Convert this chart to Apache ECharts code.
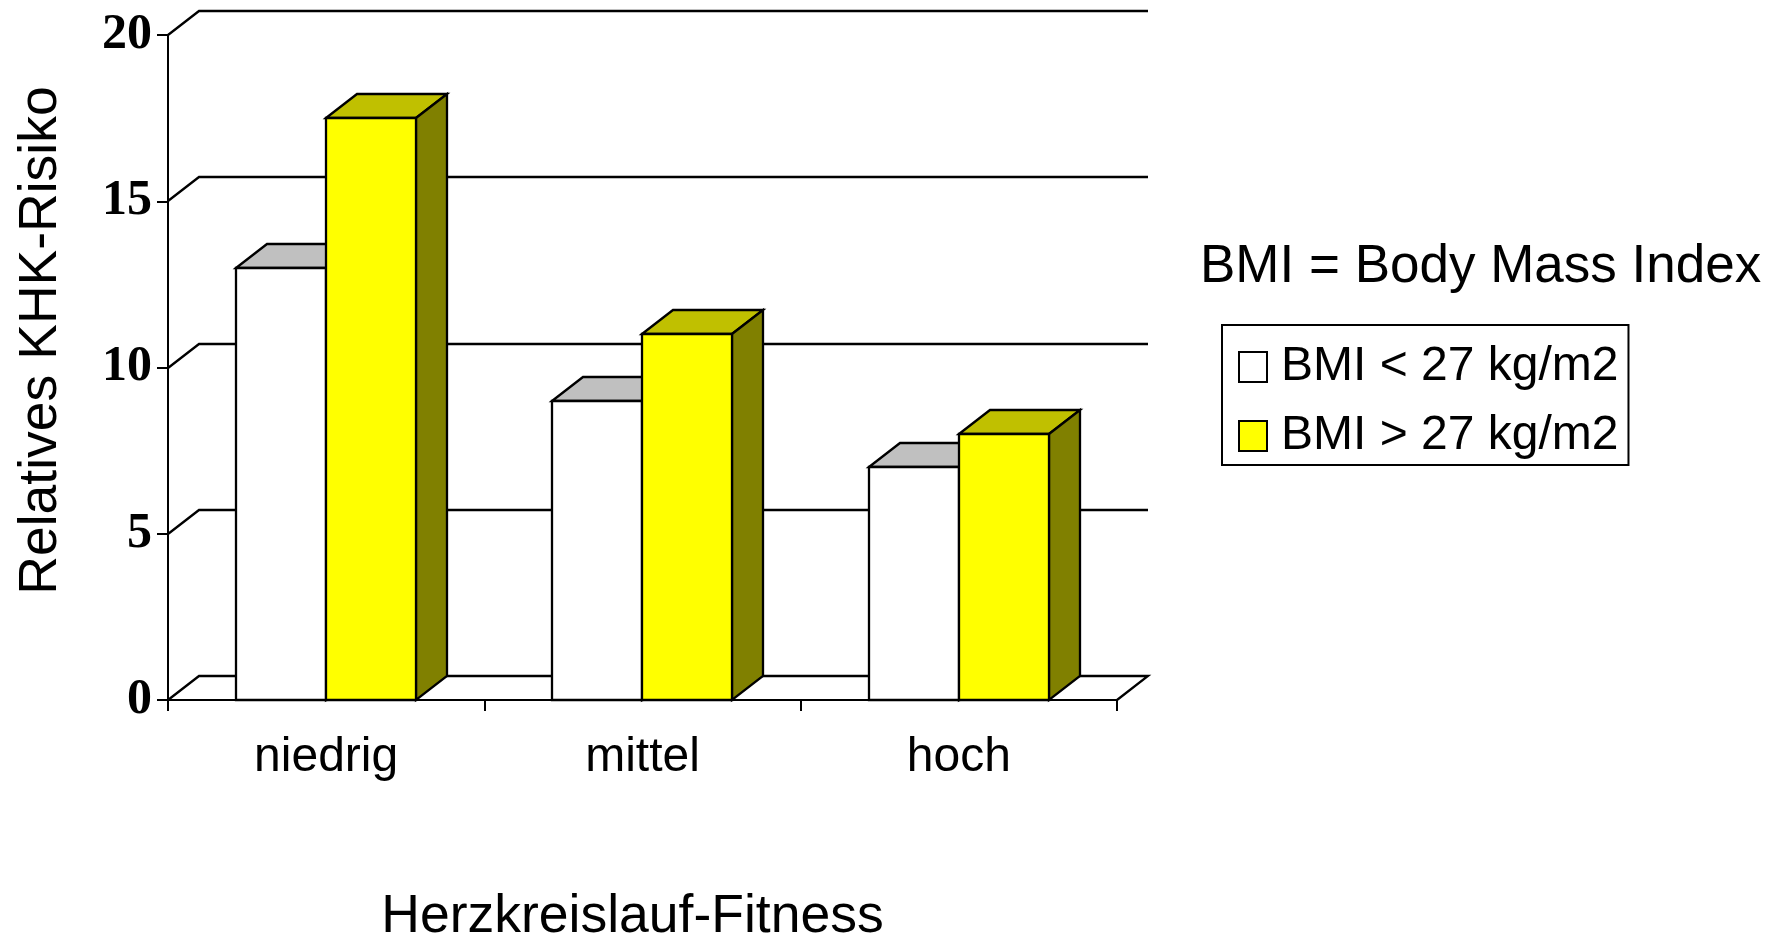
<!DOCTYPE html>
<html>
<head>
<meta charset="utf-8">
<style>html,body{margin:0;padding:0;background:#fff}#c{width:1784px;height:935px}</style>
<script src="https://cdn.jsdelivr.net/npm/echarts@6/dist/echarts.min.js"></script>
</head>
<body>
<div id="c"></div>
<script>
var categories = ['niedrig', 'mittel', 'hoch'];
var lowBmi = [13, 9, 7];
var highBmi = [17.5, 11, 8];
var yTicks = [0, 5, 10, 15, 20];
var lowName = 'BMI < 27 kg/m2';
var highName = 'BMI > 27 kg/m2';
var noteText = 'BMI = Body Mass Index';
var yTitle = 'Relatives KHK-Risiko';
var xTitle = 'Herzkreislauf-Fitness';

var DX = 31, DY = 24, BAR_FRAC = 90 / 316.33, LW = 2.3;
var sans = '"Liberation Sans", Arial, sans-serif';
var serif = '"Liberation Serif", "Times New Roman", serif';
var chart = echarts.init(document.getElementById('c'), null, {renderer: 'canvas'});
var R = Math.round;

function poly(points, fill) {
  return {type: 'polygon', shape: {points: points},
    style: {fill: fill, stroke: '#000', lineWidth: LW, lineJoin: 'miter'}};
}
function line(points) {
  return {type: 'polyline', shape: {points: points},
    style: {fill: null, stroke: '#000', lineWidth: LW}};
}
function barRenderer(side, front, top, shade) {
  return function (params, api) {
    var base = api.coord([api.value(0), 0]);
    var tip = api.coord([api.value(0), api.value(1)]);
    var w = R(api.size([1, 0])[0] * BAR_FRAC);
    var cx = Math.floor(base[0] + 0.4);
    var x0 = side < 0 ? cx - w : cx, x1 = x0 + w;
    var yT = R(tip[1]), yB = R(base[1]);
    return {type: 'group', children: [
      poly([[x0, yT], [x0 + DX, yT - DY], [x1 + DX, yT - DY], [x1, yT]], top),
      poly([[x1, yT], [x1 + DX, yT - DY], [x1 + DX, yB - DY], [x1, yB]], shade),
      poly([[x0, yT], [x1, yT], [x1, yB], [x0, yB]], front)
    ]};
  };
}
function wallRenderer(params, api) {
  var cs = params.coordSys;
  var y = R(api.coord([0, api.value(1)])[1]);
  var x0 = R(cs.x), x1 = R(cs.x + cs.width);
  var pts = [[x0, y], [x0 + DX, y - DY], [x1 + DX, y - DY]];
  if (api.value(1) === 0) pts.push([x1, y]);
  return line(pts);
}

chart.setOption({
  animation: false,
  backgroundColor: '#fff',
  title: {
    text: noteText, left: 1200, top: 241, padding: 0,
    textStyle: {fontFamily: sans, fontSize: 53, fontWeight: 'normal', color: '#000'}
  },
  legend: {
    orient: 'vertical', left: 1222, top: 325, align: 'left',
    padding: [18, 10, 5, 16], itemGap: 21, itemWidth: 28, itemHeight: 30,
    backgroundColor: '#fff', borderColor: '#000', borderWidth: 2, borderRadius: 0,
    icon: 'rect', inactiveColor: '#000',
    textStyle: {fontFamily: sans, fontSize: 48, color: '#000', padding: [0, 0, 0, 9]},
    data: [
      {name: lowName, itemStyle: {color: '#fff', borderColor: '#000', borderWidth: 2}},
      {name: highName, itemStyle: {color: '#ff0', borderColor: '#000', borderWidth: 2}}
    ]
  },
  grid: {left: 168, top: 35, width: 949, height: 665, containLabel: false, outerBoundsMode: 'none'},
  xAxis: {
    type: 'category', data: categories, boundaryGap: true,
    name: xTitle, nameLocation: 'middle', nameGap: 190,
    nameTextStyle: {fontFamily: sans, fontSize: 53.5, color: '#000', padding: [0, 20, 0, 0]},
    axisLine: {lineStyle: {color: '#000', width: 2}},
    axisTick: {show: true, alignWithLabel: false, length: 11, lineStyle: {color: '#000', width: 2}},
    axisLabel: {fontFamily: sans, fontSize: 48, color: '#000', margin: 34, interval: 0},
    splitLine: {show: false}
  },
  yAxis: {
    type: 'value', min: 0, max: 20, interval: 5,
    name: yTitle, nameLocation: 'middle', nameGap: 100,
    nameTextStyle: {fontFamily: sans, fontSize: 53.5, color: '#000', padding: [0, 0, 0, 54]},
    axisLine: {show: true, lineStyle: {color: '#000', width: 2}},
    axisTick: {show: true, length: 11, lineStyle: {color: '#000', width: 2}},
    axisLabel: {fontFamily: serif, fontSize: 50, fontWeight: 'bold', color: '#000', margin: 16, padding: [4, 0, 0, 0]},
    splitLine: {show: false}
  },
  series: [
    {
      name: 'wall', type: 'custom', silent: true, clip: false,
      renderItem: wallRenderer, encode: {x: 0, y: 1},
      data: yTicks.map(function (v) { return [0, v]; })
    },
    {
      name: lowName, type: 'custom', clip: false, encode: {x: 0, y: 1},
      itemStyle: {color: '#fff', borderColor: '#000', borderWidth: 2},
      renderItem: barRenderer(-1, '#ffffff', '#c0c0c0', '#808080'),
      data: lowBmi.map(function (v, i) { return [i, v]; })
    },
    {
      name: highName, type: 'custom', clip: false, encode: {x: 0, y: 1},
      itemStyle: {color: '#ff0', borderColor: '#000', borderWidth: 2},
      renderItem: barRenderer(1, '#ffff00', '#c0c000', '#808000'),
      data: highBmi.map(function (v, i) { return [i, v]; })
    }
  ]
});
</script>
</body>
</html>
